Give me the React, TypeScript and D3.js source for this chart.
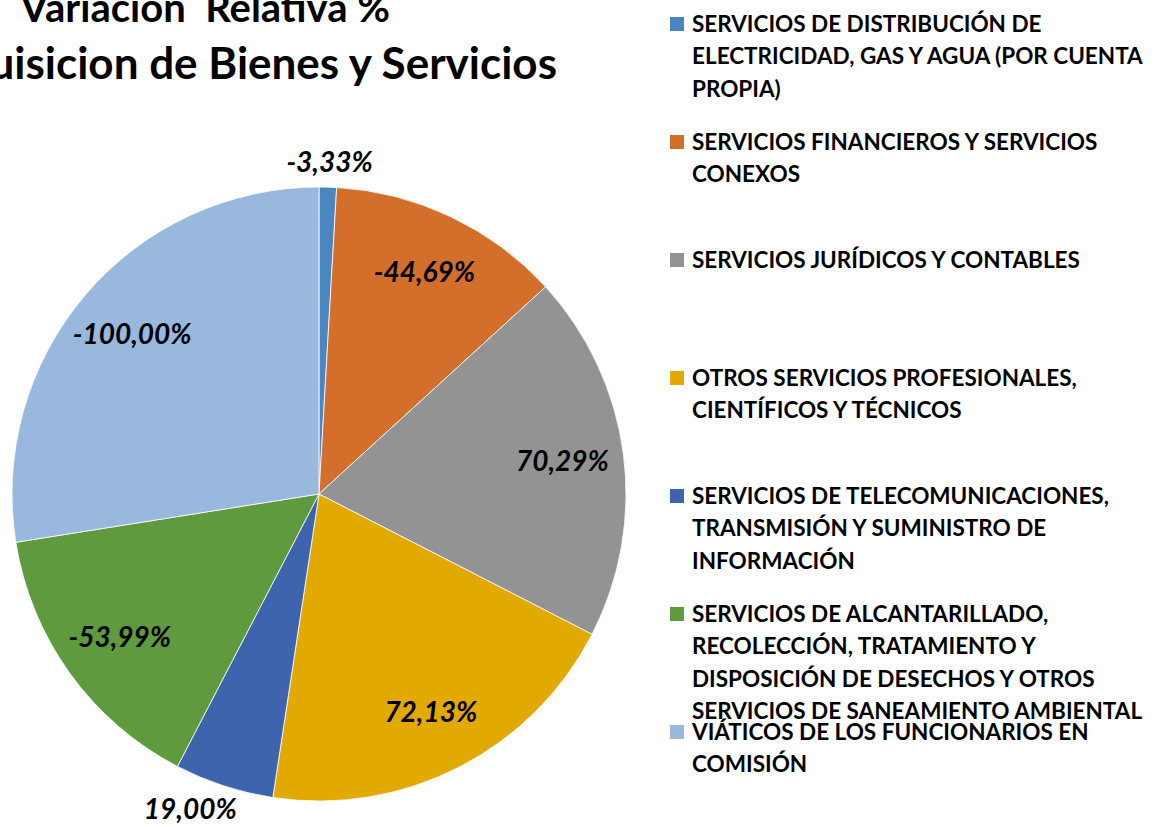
// App.tsx > pie chart of relative variation (Adquisicion de Bienes y Servicios)

import React, {useRef, useEffect} from 'react';
import * as d3 from 'd3';

// data
const categories = [
    ['SERVICIOS DE DISTRIBUCIÓN DE', 'ELECTRICIDAD, GAS Y AGUA (POR CUENTA', 'PROPIA)'],
    ['SERVICIOS FINANCIEROS Y SERVICIOS', 'CONEXOS'],
    ['SERVICIOS JURÍDICOS Y CONTABLES'],
    ['OTROS SERVICIOS PROFESIONALES,', 'CIENTÍFICOS Y TÉCNICOS'],
    ['SERVICIOS DE TELECOMUNICACIONES,', 'TRANSMISIÓN Y SUMINISTRO DE', 'INFORMACIÓN'],
    ['SERVICIOS DE ALCANTARILLADO,', 'RECOLECCIÓN, TRATAMIENTO Y', 'DISPOSICIÓN DE DESECHOS Y OTROS', 'SERVICIOS DE SANEAMIENTO AMBIENTAL'],
    ['VIÁTICOS DE LOS FUNCIONARIOS EN', 'COMISIÓN'],
];
const variacion = [-3.33, -44.69, 70.29, 72.13, 19.00, -53.99, -100.00];
const colors = ['#4A87BE', '#D36F2B', '#939393', '#E2A900', '#3E64AD', '#5F9A3E', '#98B8DE'];
const titleLines = ['Variación  Relativa %', 'Adquisicion de Bienes y Servicios'];

const W = 1160, H = 827;
const cx = 319, cy = 494, R = 307;
const FONT = 'Lato, Carlito, Calibri, sans-serif';

export default function App(){
    const svgRef = useRef<SVGSVGElement>(null);

    useEffect(() => {
        const svg = d3.select(svgRef.current);
        svg.selectAll('*').remove();

        // title
        const title = svg.append('g').attr('font-family', FONT).attr('font-weight', 700).attr('fill', '#000');
        title.append('text').attr('x', 390).attr('y', 22).attr('text-anchor', 'end')
            .attr('font-size', 40).attr('xml:space', 'preserve').text(titleLines[0]);
        title.append('text').attr('x', 557).attr('y', 79).attr('text-anchor', 'end')
            .attr('font-size', 44).text(titleLines[1]);

        // pie
        const pie = d3.pie<number>().sort(null).value((d) => Math.abs(d));
        const arcs = pie(variacion);
        const arc = d3.arc<d3.PieArcDatum<number>>().innerRadius(0).outerRadius(R);
        const g = svg.append('g').attr('transform', `translate(${cx},${cy})`);
        g.selectAll('path').data(arcs).enter().append('path')
            .attr('d', arc)
            .attr('fill', (d, i) => colors[i])
            .attr('stroke', '#fff').attr('stroke-width', 0.8);

        // labels
        const labelArc = d3.arc<d3.PieArcDatum<number>>().innerRadius(R * 0.8).outerRadius(R * 0.8);
        const fmt = (v: number) => v.toFixed(2).replace('.', ',') + '%';
        arcs.forEach((d, i) => {
            const span = d.endAngle - d.startAngle;
            let x: number, y: number;
            if (span < 0.4) {
                const mid = (d.startAngle + d.endAngle) / 2;
                const dx = Math.sin(mid), dy = -Math.cos(mid);
                const w = 100, h = 30;
                x = (R + 10) * dx + dx * w / 2 - (dy > 0 ? 15 : 0);
                y = (R + 10) * dy + dy * h / 2;
            } else {
                [x, y] = labelArc.centroid(d);
            }
            g.append('text')
                .attr('x', x).attr('y', y)
                .attr('dy', '0.35em')
                .attr('text-anchor', 'middle')
                .attr('font-family', FONT).attr('font-weight', 700).attr('font-style', 'italic')
                .attr('font-size', 28).attr('fill', '#000')
                .text(fmt(variacion[i]));
        });

        // legend
        const legend = svg.append('g').attr('font-family', FONT).attr('font-weight', 700)
            .attr('font-size', 22.5).attr('fill', '#000');
        categories.forEach((lines, i) => {
            const y0 = 24 + i * 118;
            legend.append('rect').attr('x', 670).attr('y', y0 - 7).attr('width', 14).attr('height', 14)
                .attr('fill', colors[i]);
            lines.forEach((ln, j) => {
                legend.append('text').attr('x', 692).attr('y', y0 + j * 32.5).attr('dy', '0.35em').text(ln);
            });
        });
    }, []);

    return(
        <svg ref={svgRef} width={W} height={H} style={{position: 'absolute', left: 0, top: 0, background: '#fff'}} />
    )
}
